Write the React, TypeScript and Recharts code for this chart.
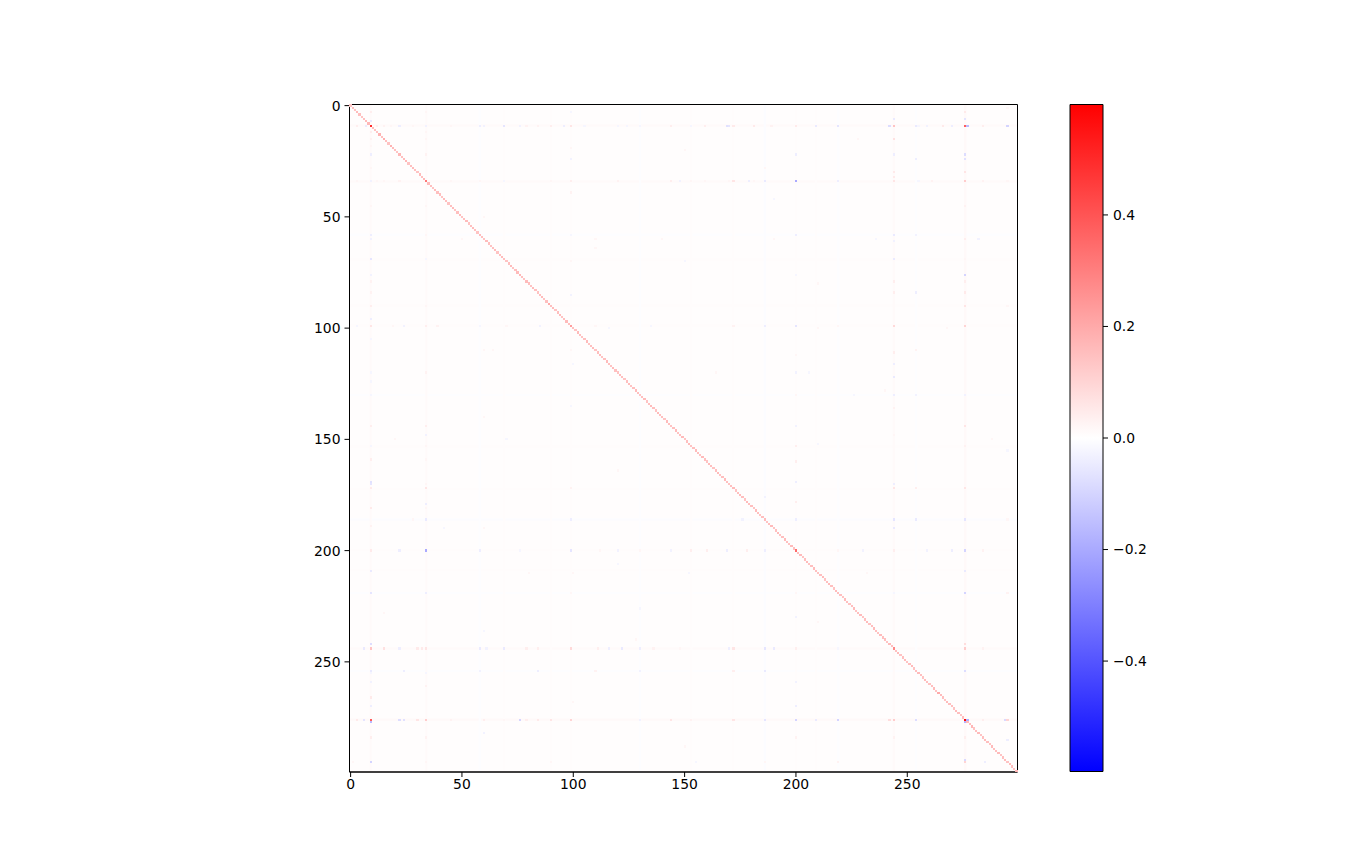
import { Bar, BarChart, ReferenceArea, Scatter, ScatterChart, XAxis, YAxis } from "recharts";

const matrixTicks = [0, 50, 100, 150, 200, 250];
const colorTicks = [-0.4, -0.2, 0, 0.2, 0.4];
const colorMax = 0.598;
const baseValue = 0.004;

// main diagonal, ten values per line
const diagonal = [
  0.14, 0.15, 0.14, 0.16, 0.15, 0.14, 0.15, 0.16, 0.17, 0.5,
  0.16, 0.15, 0.14, 0.18, 0.15, 0.19, 0.15, 0.14, 0.18, 0.16,
  0.15, 0.14, 0.17, 0.15, 0.16, 0.17, 0.14, 0.15, 0.16, 0.15,
  0.14, 0.16, 0.15, 0.17, 0.32, 0.16, 0.15, 0.14, 0.16, 0.15,
  0.15, 0.14, 0.16, 0.15, 0.14, 0.15, 0.16, 0.14, 0.15, 0.16,
  0.14, 0.15, 0.16, 0.14, 0.15, 0.16, 0.15, 0.14, 0.16, 0.15,
  0.14, 0.16, 0.15, 0.14, 0.15, 0.16, 0.14, 0.15, 0.16, 0.15,
  0.14, 0.15, 0.16, 0.14, 0.15, 0.16, 0.17, 0.15, 0.14, 0.16,
  0.15, 0.14, 0.16, 0.15, 0.14, 0.15, 0.16, 0.14, 0.15, 0.2,
  0.15, 0.16, 0.14, 0.15, 0.16, 0.14, 0.15, 0.16, 0.15, 0.23,
  0.15, 0.14, 0.16, 0.15, 0.14, 0.15, 0.16, 0.14, 0.15, 0.16,
  0.14, 0.15, 0.16, 0.14, 0.15, 0.16, 0.15, 0.14, 0.16, 0.15,
  0.14, 0.16, 0.15, 0.14, 0.15, 0.16, 0.14, 0.15, 0.16, 0.15,
  0.14, 0.15, 0.16, 0.14, 0.15, 0.16, 0.15, 0.14, 0.16, 0.15,
  0.15, 0.14, 0.16, 0.15, 0.14, 0.15, 0.16, 0.14, 0.15, 0.16,
  0.14, 0.15, 0.16, 0.14, 0.15, 0.16, 0.15, 0.14, 0.16, 0.15,
  0.14, 0.16, 0.15, 0.14, 0.15, 0.16, 0.14, 0.15, 0.16, 0.15,
  0.14, 0.15, 0.16, 0.14, 0.15, 0.16, 0.15, 0.14, 0.16, 0.15,
  0.15, 0.14, 0.16, 0.15, 0.14, 0.15, 0.16, 0.14, 0.15, 0.16,
  0.14, 0.15, 0.16, 0.14, 0.15, 0.16, 0.15, 0.14, 0.16, 0.15,
  0.35, 0.15, 0.16, 0.14, 0.15, 0.16, 0.14, 0.15, 0.16, 0.15,
  0.14, 0.15, 0.16, 0.14, 0.15, 0.16, 0.15, 0.14, 0.16, 0.15,
  0.15, 0.14, 0.16, 0.15, 0.14, 0.15, 0.16, 0.14, 0.15, 0.16,
  0.14, 0.15, 0.16, 0.14, 0.15, 0.16, 0.15, 0.14, 0.16, 0.15,
  0.15, 0.14, 0.16, 0.15, 0.28, 0.15, 0.16, 0.14, 0.15, 0.16,
  0.14, 0.15, 0.16, 0.14, 0.15, 0.16, 0.15, 0.14, 0.16, 0.15,
  0.14, 0.15, 0.16, 0.14, 0.2, 0.16, 0.15, 0.14, 0.16, 0.15,
  0.15, 0.14, 0.16, 0.15, 0.14, 0.15, 0.59, 0.16, 0.15, 0.17,
  0.14, 0.15, 0.16, 0.14, 0.15, 0.16, 0.15, 0.14, 0.16, 0.15,
  0.15, 0.16, 0.14, 0.15, 0.16, 0.14, 0.16, 0.15, 0.14, 0.17,
];

// strong rows: [column, value], the matrix is symmetric
const row9: [number, number][] = [
  [3, 0.04], [7, -0.05], [12, 0.04], [15, 0.03], [18, 0.02], [22, -0.04], [28, 0.02], [34, -0.03],
  [45, 0.02], [58, -0.04], [60, -0.03], [69, -0.06], [76, -0.03], [79, 0.03], [84, 0.03], [90, 0.04],
  [96, -0.04], [99, 0.06], [105, -0.02], [120, -0.02], [124, -0.02], [130, -0.02], [144, 0.04],
  [153, -0.02], [159, 0.04], [169, -0.07], [172, 0.05], [181, 0.05], [189, 0.03], [200, 0.05],
  [209, -0.05], [219, -0.06], [242, -0.08], [244, 0.14], [255, -0.02], [259, -0.03], [266, 0.05],
  [270, -0.04], [276, 0.38], [277, -0.16], [284, 0.04], [295, -0.1],
];
const row34: [number, number][] = [
  [3, 0.02], [12, 0.02], [22, 0.03], [45, 0.02], [58, 0.02], [69, -0.02], [90, 0.02], [99, 0.04], [120, 0.03],
  [144, 0.04], [153, 0.02], [159, 0.02], [172, 0.06], [179, -0.04], [186, -0.05], [200, -0.2],
  [219, -0.04], [244, 0.06], [255, -0.02], [276, 0.12], [284, 0.03], [295, 0.02],
];
const row200: [number, number][] = [
  [9, 0.05], [22, -0.04], [58, -0.04], [76, -0.02], [99, -0.06], [112, 0.02], [120, -0.03], [130, 0.02],
  [144, -0.03], [153, 0.04], [160, 0.04], [169, -0.04], [178, 0.04], [186, -0.04], [219, 0.02],
  [230, -0.03], [244, 0.04], [259, -0.03], [270, -0.04], [276, -0.1], [284, 0.03],
];
const row244: [number, number][] = [
  [6, -0.05], [15, 0.07], [22, -0.04], [30, 0.05], [32, 0.05], [58, -0.05], [61, -0.03], [69, -0.05],
  [79, 0.04], [84, 0.04], [99, 0.09], [111, 0.04], [116, -0.04], [122, -0.05], [130, -0.04], [136, 0.03],
  [148, 0.02], [172, 0.06], [186, -0.06], [190, -0.05], [219, -0.02], [276, 0.12], [284, 0.03],
];
const row276: [number, number][] = [
  [3, 0.05], [6, -0.06], [22, -0.08], [24, -0.07], [30, 0.06], [45, 0.03], [69, 0.02], [76, -0.1],
  [79, 0.04], [84, 0.05], [90, 0.06], [99, 0.1], [130, -0.03], [144, 0.06], [153, 0.03], [172, 0.06],
  [186, -0.06], [209, -0.05], [219, -0.1], [242, 0.08], [254, -0.08], [277, -0.18], [284, 0.04], [294, -0.09],
];
const row99: [number, number][] = [
  [3, -0.02], [19, 0.02], [24, -0.03], [39, 0.03], [58, -0.02], [70, 0.02], [85, -0.03], [110, 0.02],
  [135, -0.02], [172, 0.03], [186, -0.04], [219, 0.02], [276, -0.04],
];
const row295: [number, number][] = [
  [1, 0.02], [34, 0.02], [90, 0.02], [155, -0.02], [186, 0.02], [219, 0.03], [276, 0.1], [285, -0.04],
];

// other visible cells: [row, column, value]
const scattered: [number, number, number][] = [
  [22, 9, -0.05], [60, 9, 0.03], [76, 9, -0.04], [170, 9, -0.06], [181, 9, 0.04], [219, 9, 0.05], [254, 9, -0.05],
  [60, 276, 0.04], [76, 276, -0.04], [170, 244, -0.04], [219, 276, 0.04], [254, 276, -0.04], [90, 276, 0.03],
  [15, 34, 0.02], [148, 34, -0.03], [181, 34, 0.02], [170, 34, 0.02], [254, 24, -0.04], [254, 58, -0.03],
  [254, 84, -0.04], [254, 110, 0.03], [254, 130, -0.03], [254, 172, 0.04], [254, 186, -0.05], [261, 34, 0.03],
  [20, 150, 0.02], [28, 186, 0.02], [42, 190, -0.02], [50, 60, 0.02], [64, 110, 0.02], [70, 150, -0.02],
  [80, 210, 0.02], [110, 60, 0.02], [116, 100, -0.02], [128, 240, 0.02], [140, 60, 0.02], [152, 210, -0.02],
  [164, 120, 0.02], [176, 186, -0.03], [190, 60, 0.02], [210, 100, 0.02], [226, 130, -0.02], [232, 210, 0.02],
  [236, 60, -0.02], [268, 100, 0.02], [282, 60, -0.03], [288, 150, 0.02], [228, 15, 0.02], [206, 120, -0.02],
];

// faint full-width stripes seen behind the strong rows: [index, value]
const faintBands: [number, number][] = [
  [9, 0.012], [34, 0.012], [58, -0.004], [69, 0.006], [90, 0.006], [99, 0.008], [130, -0.004], [153, 0.006],
  [172, 0.008], [186, -0.006], [200, 0.008], [209, 0.006], [219, -0.005], [244, 0.012], [254, -0.005], [276, 0.014],
];

const strongRows: [number, [number, number][]][] = [
  [9, row9], [34, row34], [99, row99], [200, row200], [244, row244], [276, row276], [295, row295],
];

const cells = [
  ...scattered.flatMap(([r, c, v]) => [{ r, c, v }, { r: c, c: r, v }]),
  ...strongRows.flatMap(([r, list]) => list.flatMap(([c, v]) => [{ r, c, v }, { r: c, c: r, v }])),
  ...diagonal.map((v, i) => ({ r: i, c: i, v })),
];

function bwr(v: number) {
  const k = Math.max(0, 1 - Math.abs(v) / colorMax);
  const shade = Math.round(255 * k);
  return v >= 0 ? `rgb(255,${shade},${shade})` : `rgb(${shade},${shade},255)`;
}

const cellPx = 668 / 300;

// snap each cell to whole pixels, like a nearest-neighbour image
function CellShape(props: any) {
  const x = Math.round(props.cx - cellPx / 2);
  const y = Math.round(props.cy - cellPx / 2);
  const right = Math.round(props.cx + cellPx / 2);
  const bottom = Math.round(props.cy + cellPx / 2);
  return <rect x={x} y={y} width={right - x} height={bottom - y} fill={bwr(props.payload.v)} />;
}

const tickStyle = { fontFamily: "DejaVu Sans", fontSize: 13.9, fill: "#000" };
const line = { stroke: "#000", strokeWidth: 1 };

function formatColor(v: number) {
  return v === 0 ? "0.0" : v.toFixed(1).replace("-", "\u2212");
}

export default function App() {
  return (
    <div style={{ position: "absolute", left: 0, top: 0, width: 1365, height: 867, background: "#fff" }}>
      <div style={{ position: "absolute", left: 0, top: 0 }}>
        <ScatterChart width={1365} height={867} margin={{ left: 299.5, right: 347.5, top: 104.5, bottom: 65 }}>
          <XAxis
            type="number"
            dataKey="c"
            domain={[-0.5, 299.5]}
            ticks={matrixTicks}
            interval={0}
            height={30}
            tickSize={5}
            tickMargin={2}
            tick={tickStyle}
            axisLine={line}
            tickLine={line}
          />
          <YAxis
            type="number"
            dataKey="r"
            reversed
            domain={[-0.5, 299.5]}
            ticks={matrixTicks}
            interval={0}
            width={50}
            tickSize={5}
            tickMargin={4}
            tick={tickStyle}
            axisLine={line}
            tickLine={line}
          />
          <ReferenceArea x1={-0.5} x2={299.5} y1={-0.5} y2={299.5} fill={bwr(baseValue)} fillOpacity={1} stroke="none" />
          {faintBands.map(([i, v]) => (
            <ReferenceArea key={`r${i}`} x1={-0.5} x2={299.5} y1={i - 0.5} y2={i + 0.5} fill={bwr(v)} fillOpacity={1} stroke="none" />
          ))}
          {faintBands.map(([i, v]) => (
            <ReferenceArea key={`c${i}`} x1={i - 0.5} x2={i + 0.5} y1={-0.5} y2={299.5} fill={bwr(v)} fillOpacity={1} stroke="none" />
          ))}
          <Scatter data={cells} shape={CellShape} isAnimationActive={false} />
          <ReferenceArea x1={-0.5} x2={299.5} y1={-0.5} y2={299.5} fill="none" stroke="#000" strokeWidth={1} />
        </ScatterChart>
      </div>
      <div style={{ position: "absolute", left: 1020, top: 0 }}>
        <BarChart
          width={200}
          height={867}
          data={[{ name: "scale", range: [-colorMax, colorMax] }]}
          margin={{ left: 50, right: 47, top: 104.5, bottom: 95.5 }}
          barCategoryGap={0}
        >
          <defs>
            <linearGradient id="bwr" x1="0" y1="0" x2="0" y2="1">
              <stop offset="0%" stopColor="#ff0000" />
              <stop offset="50%" stopColor="#ffffff" />
              <stop offset="100%" stopColor="#0000ff" />
            </linearGradient>
          </defs>
          <XAxis dataKey="name" hide />
          <YAxis
            orientation="right"
            domain={[-colorMax, colorMax]}
            ticks={colorTicks}
            interval={0}
            width={70}
            tickSize={5}
            tickMargin={5}
            tick={tickStyle}
            tickFormatter={formatColor}
            axisLine={false}
            tickLine={line}
          />
          <Bar dataKey="range" fill="url(#bwr)" stroke="#000" strokeWidth={1} isAnimationActive={false} />
        </BarChart>
      </div>
    </div>
  );
}
